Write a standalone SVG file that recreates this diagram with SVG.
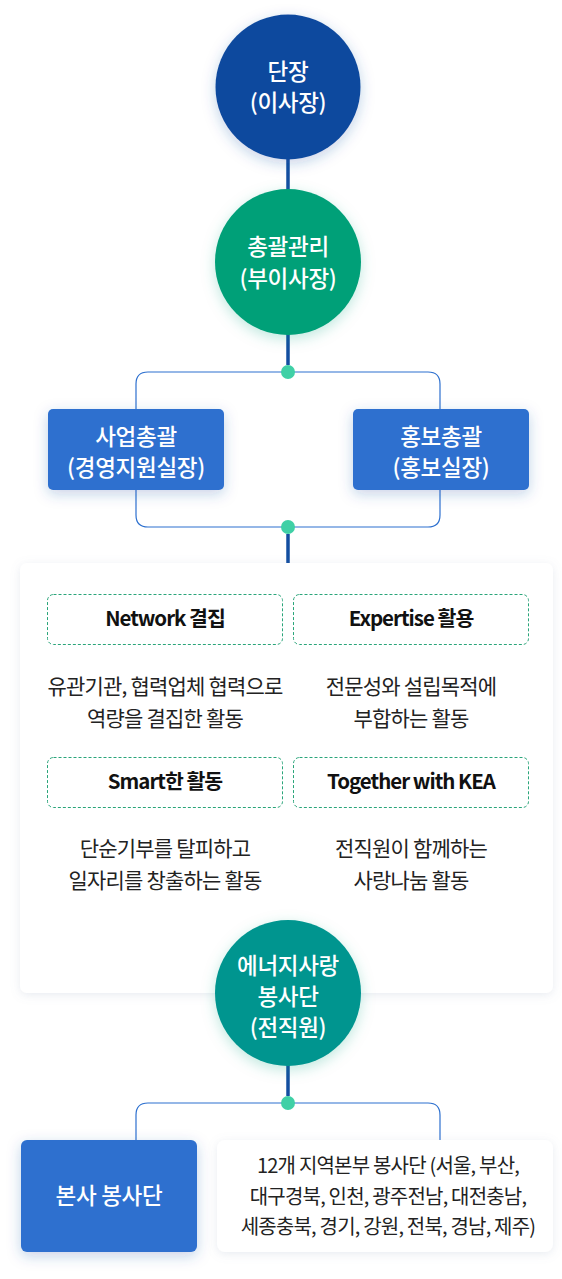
<svg xmlns="http://www.w3.org/2000/svg" width="562" height="1279" viewBox="0 0 562 1279">
<defs>
<style>
text{font-family:"Noto Sans CJK KR","Noto Sans",sans-serif;text-anchor:middle}
.w{fill:#fff;font-size:22.5px;font-weight:500;letter-spacing:-0.3px}
.t{fill:#111;font-size:20.5px;font-weight:700;letter-spacing:-1px}
.d{fill:#222;font-size:21px;letter-spacing:-0.8px}
.r{fill:#222;font-size:20px;letter-spacing:-0.8px}
.br{fill:none;stroke:#2d70cf;stroke-width:1.2}
.stem{stroke:#124ea0;stroke-width:3.5}
.dot{fill:#40d0a6}
.dash{fill:#fff;stroke:#2aa57a;stroke-width:1;stroke-dasharray:3 2}
.box{fill:#2d70cf}
</style>
<filter id="sb" x="-40%" y="-40%" width="180%" height="180%"><feDropShadow dx="0" dy="4" stdDeviation="7" flood-color="#1a4fa0" flood-opacity="0.25"/></filter>
<filter id="sg" x="-40%" y="-40%" width="180%" height="180%"><feDropShadow dx="0" dy="4" stdDeviation="7" flood-color="#00a07a" flood-opacity="0.25"/></filter>
<filter id="sp" x="-10%" y="-10%" width="120%" height="120%"><feDropShadow dx="0" dy="2" stdDeviation="5" flood-color="#8090b0" flood-opacity="0.18"/></filter>
</defs>
<rect width="562" height="1279" fill="#fff"/>

<g id="connectors">
<line class="stem" x1="288" y1="150" x2="288" y2="200"/>
<line class="stem" x1="288" y1="325" x2="288" y2="365"/>
<path class="br" d="M136 409 V384 Q136 372 148 372 H428 Q440 372 440 384 V409"/>
<path class="br" d="M136 490 V515 Q136 527 148 527 H428 Q440 527 440 515 V490"/>
<line class="stem" x1="288" y1="534" x2="288" y2="570"/>
<line class="stem" x1="288" y1="1055" x2="288" y2="1096"/>
<path class="br" d="M136 1140 V1115 Q136 1103 148 1103 H428 Q440 1103 440 1115 V1140"/>
<circle class="dot" cx="288" cy="372" r="7"/>
<circle class="dot" cx="288" cy="527" r="7"/>
<circle class="dot" cx="288" cy="1103" r="7"/>
</g>

<g id="n-chief">
<circle cx="288" cy="87" r="72.5" fill="#114a9e" filter="url(#sb)"/>
<text class="w" x="288" y="80">단장</text>
<text class="w" x="288" y="111">(이사장)</text>
</g>

<g id="n-vice">
<circle cx="288" cy="262" r="73" fill="#02a078" filter="url(#sg)"/>
<text class="w" x="288" y="255">총괄관리</text>
<text class="w" x="288" y="287">(부이사장)</text>
</g>

<g id="n-biz">
<rect class="box" x="48" y="409" width="176" height="81" rx="5" filter="url(#sb)"/>
<text class="w" x="136" y="445">사업총괄</text>
<text class="w" x="136" y="476">(경영지원실장)</text>
</g>

<g id="n-pr">
<rect class="box" x="353" y="409" width="176" height="81" rx="5" filter="url(#sb)"/>
<text class="w" x="441" y="445">홍보총괄</text>
<text class="w" x="441" y="476">(홍보실장)</text>
</g>

<g id="panel">
<rect x="20" y="563" width="533" height="430" rx="7" fill="#fff" filter="url(#sp)"/>
</g>

<g id="n-network">
<rect class="dash" x="47.5" y="594.5" width="235" height="50" rx="6"/>
<text class="t" x="165" y="626">Network 결집</text>
<text class="d" x="165" y="694">유관기관, 협력업체 협력으로</text>
<text class="d" x="165" y="726">역량을 결집한 활동</text>
</g>

<g id="n-expertise">
<rect class="dash" x="293.5" y="594.5" width="235" height="50" rx="6"/>
<text class="t" x="411" y="626">Expertise 활용</text>
<text class="d" x="411" y="694">전문성와 설립목적에</text>
<text class="d" x="411" y="726">부합하는 활동</text>
</g>

<g id="n-smart">
<rect class="dash" x="47.5" y="757.5" width="235" height="50" rx="6"/>
<text class="t" x="165" y="789">Smart한 활동</text>
<text class="d" x="165" y="856">단순기부를 탈피하고</text>
<text class="d" x="165" y="888">일자리를 창출하는 활동</text>
</g>

<g id="n-together">
<rect class="dash" x="293.5" y="757.5" width="235" height="50" rx="6"/>
<text class="t" x="411" y="789">Together with KEA</text>
<text class="d" x="411" y="856">전직원이 함께하는</text>
<text class="d" x="411" y="888">사랑나눔 활동</text>
</g>

<g id="n-volunteer">
<circle cx="288" cy="993" r="73" fill="#01958f" filter="url(#sg)"/>
<text class="w" x="288" y="974">에너지사랑</text>
<text class="w" x="288" y="1005">봉사단</text>
<text class="w" x="288" y="1036">(전직원)</text>
</g>

<g id="n-hq">
<rect class="box" x="21" y="1140" width="176" height="112" rx="6" filter="url(#sb)"/>
<text class="w" x="109" y="1204">본사 봉사단</text>
</g>

<g id="n-regional">
<rect x="217" y="1140" width="336" height="112" rx="8" fill="#fff" filter="url(#sp)"/>
<text class="r" x="388" y="1173">12개 지역본부 봉사단 (서울, 부산,</text>
<text class="r" x="388" y="1204">대구경북, 인천, 광주전남, 대전충남,</text>
<text class="r" x="388" y="1234">세종충북, 경기, 강원, 전북, 경남, 제주)</text>
</g>
</svg>
